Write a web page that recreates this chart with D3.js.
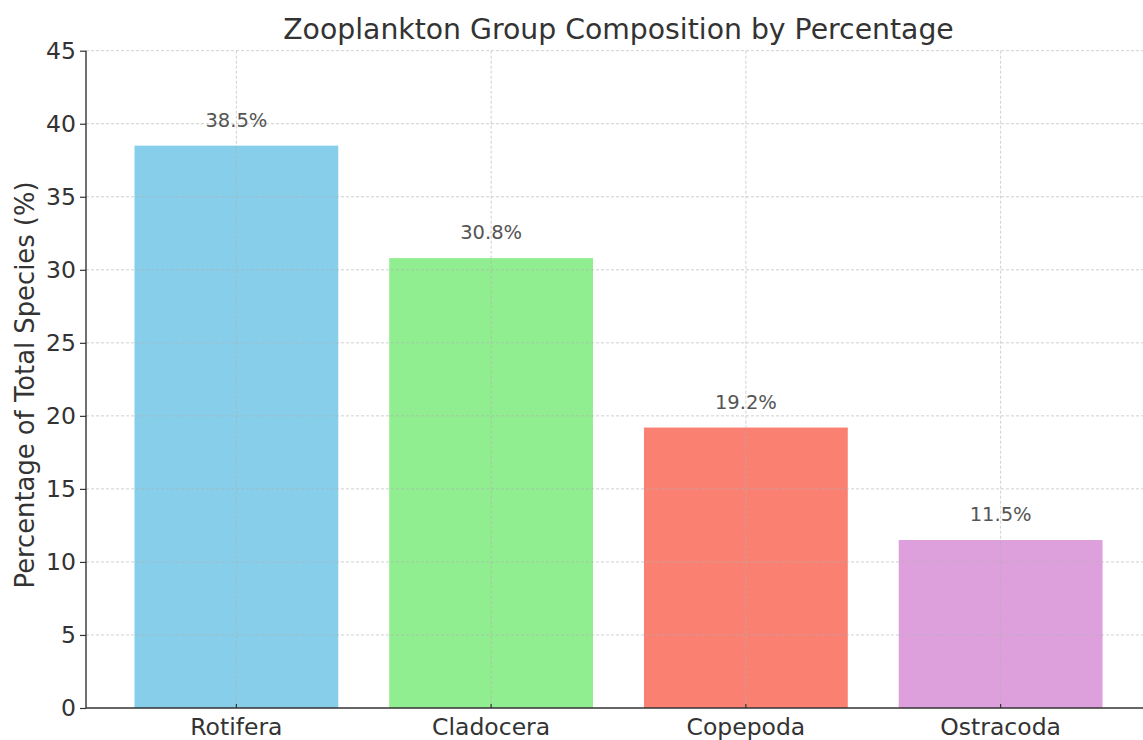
<!DOCTYPE html>
<html>
<head>
<meta charset="utf-8">
<script src="https://cdn.jsdelivr.net/npm/d3@7"></script>
<style>
  html, body { margin: 0; padding: 0; background: #fff; }
  svg { display: block; font-family: "DejaVu Sans", sans-serif; }
</style>
</head>
<body>
<svg id="chart" width="1143" height="740"></svg>
<script>
const categories = ["Rotifera", "Cladocera", "Copepoda", "Ostracoda"];
const percentages = [38.5, 30.8, 19.2, 11.5];
const barColors = ["#87CEEB", "#90EE90", "#FA8072", "#DDA0DD"];
const yTicks = [0, 5, 10, 15, 20, 25, 30, 35, 40, 45];
const titleText = "Zooplankton Group Composition by Percentage";
const yLabelText = "Percentage of Total Species (%)";

const svg = d3.select("#chart");
const plotLeft = 86, plotRight = 1151, plotTop = 50.7, plotBottom = 708;

const y = d3.scaleLinear().domain([0, 45]).range([plotBottom, plotTop]);
const x = d3.scaleBand().domain(categories)
  .range([109, 1128]).paddingInner(0.2).paddingOuter(0.1);

// bars
svg.append("g").selectAll("rect").data(categories).join("rect")
  .attr("x", d => x(d))
  .attr("width", x.bandwidth())
  .attr("y", (d, i) => y(percentages[i]))
  .attr("height", (d, i) => y(0) - y(percentages[i]))
  .attr("fill", (d, i) => barColors[i]);

// grid (drawn above bars like matplotlib)
const grid = svg.append("g").attr("stroke", "#b0b0b0").attr("stroke-opacity", 0.6)
  .attr("stroke-width", 1).attr("stroke-dasharray", "3,2");
grid.selectAll("line.h").data(yTicks.slice(1)).join("line").attr("class", "h")
  .attr("x1", plotLeft).attr("x2", 1143)
  .attr("y1", d => y(d)).attr("y2", d => y(d));
grid.selectAll("line.v").data(categories).join("line").attr("class", "v")
  .attr("x1", d => x(d) + x.bandwidth() / 2).attr("x2", d => x(d) + x.bandwidth() / 2)
  .attr("y1", plotTop).attr("y2", plotBottom);

// y axis
const yAxis = d3.axisLeft(y).tickValues(yTicks).tickSize(6).tickPadding(4);
const gy = svg.append("g").attr("transform", `translate(${plotLeft},0)`).call(yAxis);
gy.select(".domain").attr("d", `M0,${plotTop}V${plotBottom}`).attr("stroke", "#333").attr("stroke-width", 1.4);
gy.selectAll(".tick line").attr("stroke", "#333").attr("stroke-width", 1.2);
gy.selectAll(".tick text").attr("font-size", 23.5).attr("fill", "#333")
  .attr("font-family", "DejaVu Sans");

// x axis
const xAxis = d3.axisBottom(x).tickSizeInner(-4).tickSizeOuter(0).tickPadding(10);
const gx = svg.append("g").attr("transform", `translate(0,${plotBottom})`).call(xAxis);
gx.select(".domain").attr("d", `M${plotLeft},0H1143`).attr("stroke", "#333").attr("stroke-width", 1.4);
gx.selectAll(".tick line").attr("stroke", "#333").attr("stroke-width", 1.2);
gx.selectAll(".tick text").attr("font-size", 23.5).attr("fill", "#333")
  .attr("font-family", "DejaVu Sans");

// value labels
svg.append("g").selectAll("text").data(categories).join("text")
  .attr("x", d => x(d) + x.bandwidth() / 2)
  .attr("y", (d, i) => y(percentages[i]) - 19)
  .attr("text-anchor", "middle")
  .attr("font-size", 19.5).attr("fill", "#555")
  .text((d, i) => percentages[i].toFixed(1) + "%");

// title
svg.append("text").attr("x", 618.5).attr("y", 39)
  .attr("text-anchor", "middle").attr("font-size", 28.3).attr("fill", "#333")
  .text(titleText);

// y label
svg.append("text").attr("transform", `translate(34,385) rotate(-90)`)
  .attr("text-anchor", "middle").attr("font-size", 25.8).attr("fill", "#333")
  .text(yLabelText);
</script>
</body>
</html>
